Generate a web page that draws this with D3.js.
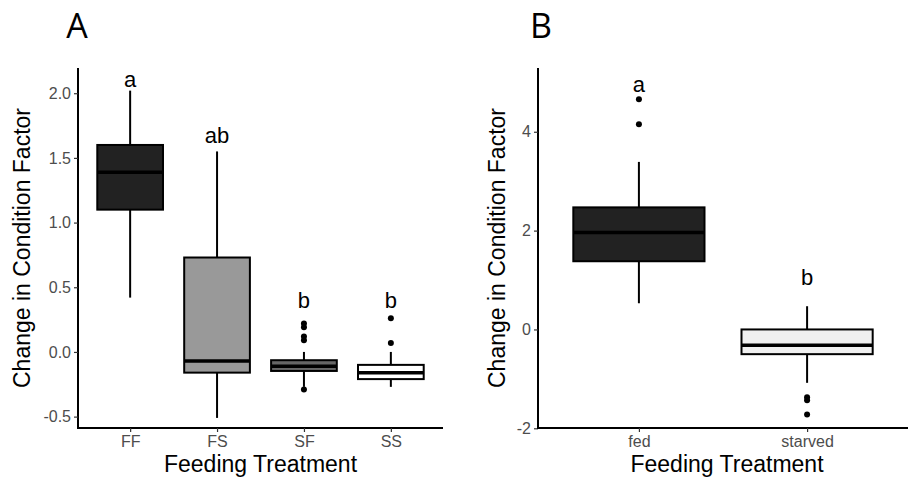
<!DOCTYPE html>
<html>
<head>
<meta charset="utf-8">
<script src="https://cdn.jsdelivr.net/npm/d3@7"></script>
<style>
  body { margin: 0; background: #fff; }
  svg { display: block; }
</style>
</head>
<body>
<svg id="chart" width="909" height="483"></svg>
<script>
// ---------- Panel A data ----------
const categoriesA = ["FF", "FS", "SF", "SS"];
const whiskerLowA = [0.42, -0.51, -0.27, -0.27];
const q1A = [1.10, -0.16, -0.147, -0.21];
const medianA = [1.39, -0.07, -0.11, -0.16];
const q3A = [1.60, 0.73, -0.064, -0.10];
const whiskerHighA = [2.02, 1.55, 0.0, 0.0];
const outliersA = [[], [], [0.22, 0.19, 0.12, 0.09, -0.29], [0.26, 0.07]];
const lettersA = ["a", "ab", "b", "b"];
const letterPosA = [2.045, 1.616, 0.336, 0.336];
const ticksA = [-0.5, 0.0, 0.5, 1.0, 1.5, 2.0];
const tickLabelsA = ["-0.5", "0.0", "0.5", "1.0", "1.5", "2.0"];

// ---------- Panel B data ----------
const categoriesB = ["fed", "starved"];
const whiskerLowB = [0.53, -1.08];
const q1B = [1.38, -0.50];
const medianB = [1.96, -0.32];
const q3B = [2.47, 0.0];
const whiskerHighB = [3.39, 0.47];
const outliersB = [[4.66, 4.15], [-1.37, -1.43, -1.72]];
const lettersB = ["a", "b"];
const letterPosB = [4.81, 0.90];
const ticksB = [-2, 0, 2, 4];
const tickLabelsB = ["-2", "0", "2", "4"];

const svg = d3.select("#chart");
const FONT = "'Liberation Sans', Arial, sans-serif";

function drawPanel(cfg) {
  const g = svg.append("g");
  const x = d3.scalePoint().domain(cfg.cats).range([cfg.x0, cfg.x1]).padding(0.6);
  const y = d3.scaleLinear().domain(cfg.yDomain).range([cfg.y1, cfg.y0]);
  const bw = x.step() * cfg.boxFrac;

  // Panel label
  g.append("text").attr("x", cfg.labelX).attr("y", 38)
    .attr("font-family", "'Open Sans', sans-serif").attr("font-size", 34)
    .attr("fill", "#000").attr("text-anchor", "middle").text(cfg.label);

  // Y axis
  const yAxis = d3.axisLeft(y).tickValues(cfg.ticks)
    .tickFormat((d, i) => cfg.tickLabels[i]).tickSize(4).tickPadding(3);
  const ya = g.append("g").attr("transform", `translate(${cfg.x0},0)`).call(yAxis);
  ya.select(".domain").attr("stroke", "#000").attr("stroke-width", 2)
    .attr("d", `M0,${cfg.y0}V${cfg.y1 + 1}`);
  ya.selectAll(".tick line").attr("stroke", "#333").attr("stroke-width", 1.2);
  ya.selectAll(".tick text").attr("font-family", FONT).attr("font-size", 16)
    .attr("fill", "#4d4d4d");

  // X axis
  const xAxis = d3.axisBottom(x).tickSize(4).tickPadding(4);
  const xa = g.append("g").attr("transform", `translate(0,${cfg.y1})`).call(xAxis);
  xa.select(".domain").attr("stroke", "#000").attr("stroke-width", 2)
    .attr("d", `M${cfg.x0 - 1},0H${cfg.x1}`);
  xa.selectAll(".tick line").attr("stroke", "#333").attr("stroke-width", 1.2);
  xa.selectAll(".tick text").attr("font-family", FONT).attr("font-size", 16)
    .attr("fill", "#4d4d4d");

  // Axis titles
  g.append("text").attr("x", (cfg.x0 + cfg.x1) / 2 + cfg.xTitleShift).attr("y", 472)
    .attr("text-anchor", "middle").attr("font-family", FONT).attr("font-size", 23)
    .attr("fill", "#000").text("Feeding Treatment");
  g.append("text")
    .attr("transform", `translate(${cfg.yTitleX},${(cfg.y0 + cfg.y1) / 2}) rotate(-90)`)
    .attr("text-anchor", "middle").attr("font-family", FONT).attr("font-size", 23)
    .attr("fill", "#000").text("Change in Condition Factor");

  // Boxes
  cfg.cats.forEach((c, i) => {
    const cx = x(c);
    const bg = g.append("g");
    // whiskers
    bg.append("line").attr("x1", cx).attr("x2", cx)
      .attr("y1", y(cfg.q3[i])).attr("y2", y(cfg.wHigh[i]))
      .attr("stroke", "#000").attr("stroke-width", 2);
    bg.append("line").attr("x1", cx).attr("x2", cx)
      .attr("y1", y(cfg.q1[i])).attr("y2", y(cfg.wLow[i]))
      .attr("stroke", "#000").attr("stroke-width", 2);
    // box
    bg.append("rect").attr("x", cx - bw / 2).attr("width", bw)
      .attr("y", y(cfg.q3[i])).attr("height", y(cfg.q1[i]) - y(cfg.q3[i]))
      .attr("fill", cfg.fills[i]).attr("stroke", "#000").attr("stroke-width", 2);
    // median
    bg.append("line").attr("x1", cx - bw / 2).attr("x2", cx + bw / 2)
      .attr("y1", y(cfg.med[i])).attr("y2", y(cfg.med[i]))
      .attr("stroke", "#000").attr("stroke-width", 3.5);
    // outliers
    cfg.outliers[i].forEach(v => {
      bg.append("circle").attr("cx", cx).attr("cy", y(v)).attr("r", 3).attr("fill", "#000");
    });
    // letter
    g.append("text").attr("x", cx).attr("y", y(cfg.letterPos[i]))
      .attr("text-anchor", "middle").attr("font-family", FONT).attr("font-size", 22)
      .attr("fill", "#000").text(cfg.letters[i]);
  });
}

drawPanel({
  label: "A", labelX: 77,
  cats: categoriesA, x0: 78, x1: 443, y0: 68, y1: 428,
  yDomain: [-0.588, 2.195], boxFrac: 0.756,
  ticks: ticksA, tickLabels: tickLabelsA,
  q1: q1A, q3: q3A, med: medianA, wLow: whiskerLowA, wHigh: whiskerHighA,
  outliers: outliersA, letters: lettersA, letterPos: letterPosA,
  fills: ["#222222", "#999999", "#666666", "#ffffff"],
  yTitleX: 30, xTitleShift: 0
});

drawPanel({
  label: "B", labelX: 541,
  cats: categoriesB, x0: 538, x1: 908, y0: 68, y1: 428,
  yDomain: [-1.994, 5.29], boxFrac: 0.78,
  ticks: ticksB, tickLabels: tickLabelsB,
  q1: q1B, q3: q3B, med: medianB, wLow: whiskerLowB, wHigh: whiskerHighB,
  outliers: outliersB, letters: lettersB, letterPos: letterPosB,
  fills: ["#222222", "#f0f0f0"],
  yTitleX: 505, xTitleShift: 4
});
</script>
</body>
</html>
